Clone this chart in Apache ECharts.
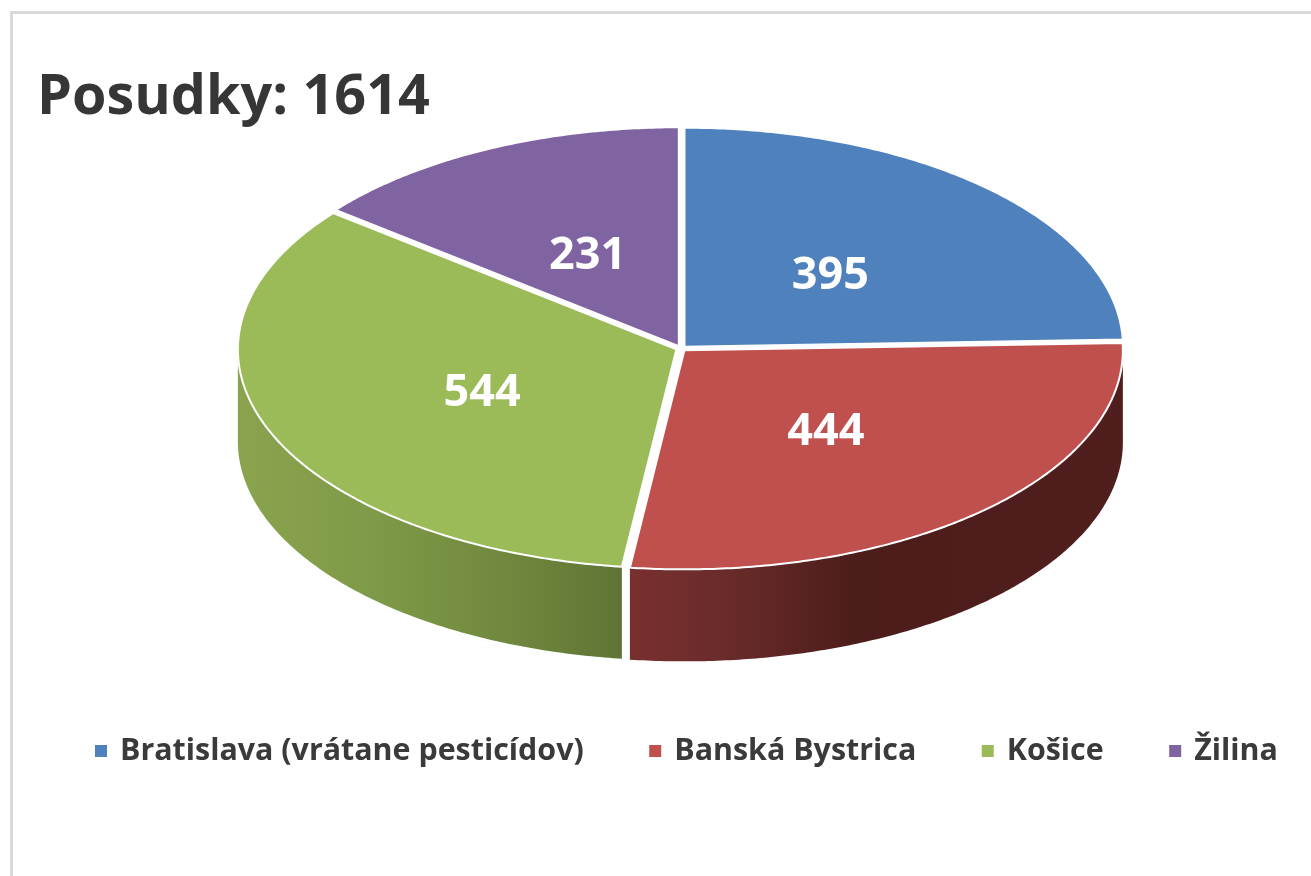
<!DOCTYPE html>
<html>
<head>
<meta charset="utf-8">
<style>html,body{margin:0;padding:0;background:#fff}#c{width:1311px;height:876px}</style>
<script src="https://cdn.jsdelivr.net/npm/echarts@6/dist/echarts.min.js"></script>
</head>
<body>
<div id="c"></div>
<script>
const categories = ['Bratislava (vrátane pesticídov)', 'Banská Bystrica', 'Košice', 'Žilina'];
const values = [395, 444, 544, 231];
const titleText = 'Posudky: 1614';
const colors = ['#4f81bd', '#c0504d', '#9bbb59', '#8064a2'];

const FONT = '"Open Sans", "Noto Sans", sans-serif';
const CX = 681, CY = 348.5, RX = 438.5, RY = 219, DEPTH = 92;
const EXPLODE_X = 5, EXPLODE_Y = 2.5;
const total = values.reduce((a, b) => a + b, 0);

const sideGradients = {
  1: [[0, '#78302f'], [0.2, '#692b2a'], [0.45, '#4d1d1c'], [1, '#4f1e1d']],
  2: [[0, '#8aa34e'], [0.35, '#7f9a48'], [0.7, '#70883e'], [1, '#5f7434']]
};

function angleOf(v) { return v / total * Math.PI * 2; }
function ellipsePoint(cx, cy, t) { return [cx + RX * Math.sin(t), cy - RY * Math.cos(t)]; }

function arc(cx, cy, a0, a1) {
  const out = [];
  const n = Math.max(2, Math.ceil(Math.abs(a1 - a0) / 0.01));
  for (let i = 0; i <= n; i++) out.push(ellipsePoint(cx, cy, a0 + (a1 - a0) * i / n));
  return out;
}

function renderSlice(idx) {
  return function (params, api) {
    const v = api.value(0);
    let start = 0;
    for (let i = 0; i < idx; i++) start += angleOf(values[i]);
    const end = start + angleOf(v);
    const mid = (start + end) / 2;
    const cx = CX + EXPLODE_X * Math.sin(mid);
    const cy = CY - EXPLODE_Y * Math.cos(mid);
    const children = [];

    const sideStart = Math.max(start, Math.PI / 2);
    const sideEnd = Math.min(end, Math.PI * 1.5);
    if (sideEnd > sideStart) {
      const topEdge = arc(cx, cy, sideStart, sideEnd);
      const bottomEdge = arc(cx, cy + DEPTH, sideEnd, sideStart);
      children.push({
        type: 'polygon',
        shape: { points: topEdge.concat(bottomEdge) },
        style: {
          fill: new echarts.graphic.LinearGradient(0, 0, 1, 0,
            sideGradients[idx].map(s => ({ offset: s[0], color: s[1] })))
        }
      });
    }

    children.push({
      type: 'polygon',
      shape: { points: [[cx, cy]].concat(arc(cx, cy, start, end)) },
      style: { fill: colors[idx], stroke: '#ffffff', lineWidth: 2, lineJoin: 'miter' }
    });

    children.push({
      type: 'text',
      style: {
        text: String(v),
        x: CX + 0.49 * RX * Math.sin(mid),
        y: CY + 4.5 - 0.49 * RY * Math.cos(mid),
        fill: '#ffffff',
        font: '700 45px ' + FONT,
        align: 'center',
        verticalAlign: 'middle'
      }
    });
    return { type: 'group', children };
  };
}

const chart = echarts.init(document.getElementById('c'), null, { renderer: 'canvas' });
chart.setOption({
  animation: false,
  backgroundColor: '#ffffff',
  title: {
    text: titleText, left: 32, top: 65,
    textStyle: { color: '#363636', fontFamily: FONT, fontWeight: 700, fontSize: 55.7 }
  },
  legend: {
    left: 90, top: 731, icon: 'rect', itemWidth: 12, itemHeight: 12, itemGap: 65.5,
    data: categories,
    textStyle: { color: '#3a3a3a', fontFamily: FONT, fontWeight: 700, fontSize: 30.4, padding: [0, 0, 0, 8] }
  },
  graphic: [
    { type: 'rect', shape: { x: 10, y: 11, width: 1301, height: 3 }, style: { fill: '#d9d9d9' }, silent: true },
    { type: 'rect', shape: { x: 10, y: 11, width: 3, height: 865 }, style: { fill: '#d9d9d9' }, silent: true }
  ],
  series: categories.map((name, i) => ({
    type: 'custom',
    name,
    coordinateSystem: 'none',
    silent: true,
    itemStyle: { color: colors[i] },
    data: [[values[i]]],
    renderItem: renderSlice(i)
  }))
});
</script>
</body>
</html>
